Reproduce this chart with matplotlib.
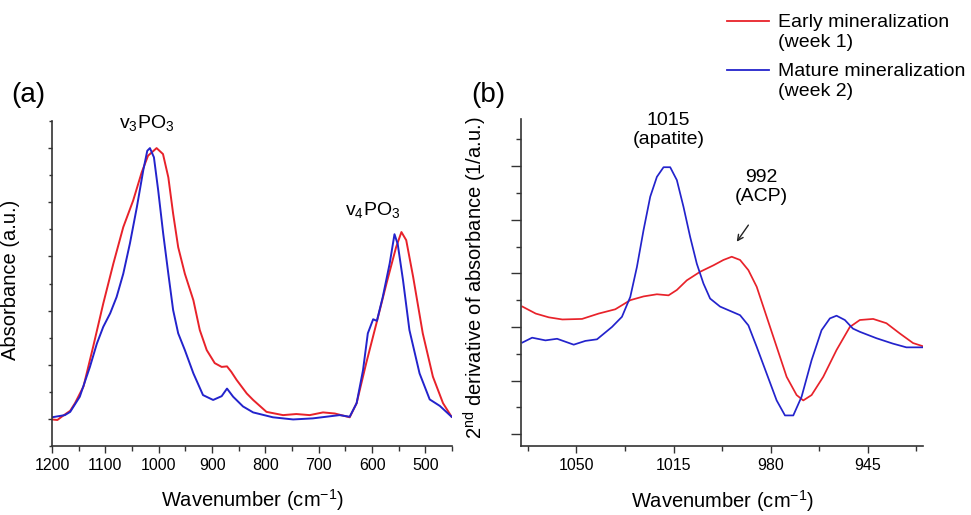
import numpy as np
import matplotlib
matplotlib.use("Agg")
import matplotlib.pyplot as plt
from matplotlib.lines import Line2D
from matplotlib.ticker import MultipleLocator, FixedLocator, NullFormatter

plt.rcParams['font.family'] = ['Liberation Sans', 'DejaVu Sans']
plt.rcParams['mathtext.fontset'] = 'custom'
plt.rcParams['mathtext.rm'] = 'Liberation Sans'
plt.rcParams['mathtext.it'] = 'Liberation Sans:italic'

RED = '#e8222a'
BLUE = '#2323cc'
SPINE = '#333333'

# panel (a): absorbance, normalised so the v3 peak sits at 5
wn_a_early = [1200, 1190, 1182, 1166, 1157, 1141, 1123, 1104, 1085, 1066.5, 1048, 1032, 1020, 1004,
              992, 982, 973, 963.5, 951, 935, 923, 910, 895, 882, 872, 864, 854, 835, 823, 798,
              767, 742, 717, 692, 670, 642, 629, 611, 592, 573, 555, 545, 536, 523, 505, 486,
              467, 451]
abs_a_early = [-0.01, -0.02, 0.04, 0.15, 0.29, 0.60, 1.33, 2.13, 2.87, 3.54, 4.03, 4.55, 4.86, 5.00,
               4.89, 4.46, 3.79, 3.17, 2.68, 2.19, 1.64, 1.27, 1.03, 0.96, 0.97, 0.87, 0.72, 0.47, 0.35, 0.13,
               0.07, 0.09, 0.07, 0.12, 0.10, 0.03, 0.29, 1.03, 1.76, 2.50, 3.17, 3.45, 3.30, 2.62, 1.58, 0.78,
               0.29, 0.04]

wn_a_mature = [1200, 1176, 1166, 1148, 1129, 1116, 1104, 1091, 1079, 1066.5, 1054, 1041, 1029, 1021.5,
               1016.5, 1009, 1001, 991.6, 982, 973, 963.5, 951, 935, 917, 898, 882, 872, 860.5,
               842, 823, 786, 748, 711, 686, 661, 642, 629, 617, 608, 598, 591, 580, 567, 558,
               552, 542, 530, 511, 492, 473, 451]
abs_a_mature = [0.03, 0.07, 0.13, 0.41, 0.96, 1.39, 1.70, 1.95, 2.25, 2.68, 3.24, 3.91, 4.59, 4.95,
                5.00, 4.83, 4.22, 3.42, 2.68, 2.01, 1.58, 1.27, 0.84, 0.44, 0.35, 0.42, 0.56, 0.41,
                0.23, 0.12, 0.03, -0.01, 0.01, 0.04, 0.07, 0.04, 0.29, 0.90, 1.58, 1.84, 1.81, 2.25, 2.87, 3.41,
                3.23, 2.56, 1.64, 0.84, 0.36, 0.24, 0.04]

# panel (b): second derivative
wn_b_early = [1069.5, 1064.7, 1060, 1055.1, 1048, 1042, 1036, 1030.6, 1025.8, 1021, 1016.8, 1013.8,
              1010.2, 1005.4, 1000.6, 997, 994, 991, 988, 985, 981.4, 977.8, 974.2, 970.6, 968.2,
              965.2, 961, 956.2, 951.4, 947.8, 943, 938.2, 933.4, 928.6, 925]
d2_b_early = [2.38, 2.25, 2.18, 2.14, 2.15, 2.25, 2.33, 2.50, 2.57, 2.61, 2.59, 2.69,
              2.87, 3.03, 3.15, 3.25, 3.31, 3.25, 3.06, 2.75, 2.19, 1.63, 1.07, 0.73, 0.63,
              0.73, 1.07, 1.57, 2.00, 2.13, 2.15, 2.07, 1.88, 1.70, 1.64]

wn_b_mature = [1069.5, 1066, 1061.2, 1057, 1051, 1046.8, 1042.6, 1037.2, 1033.6, 1030.6, 1028.2, 1025.8,
               1023.4, 1021, 1018.6, 1016.2, 1013.8, 1011.4, 1009, 1006.6, 1004.2, 1001.8, 998.2, 994.6,
               991, 988, 985, 981.4, 977.8, 974.8, 971.8, 968.8, 965.2, 961.6, 958.6, 956.2,
               953.2, 950.3, 947.8, 941.8, 935.9, 931, 925]
d2_b_mature = [1.71, 1.80, 1.75, 1.78, 1.67, 1.74, 1.77, 2.00, 2.19, 2.56, 3.12, 3.81,
               4.43, 4.80, 4.98, 4.98, 4.74, 4.24, 3.68, 3.18, 2.81, 2.53, 2.38, 2.30,
               2.22, 2.03, 1.63, 1.13, 0.63, 0.35, 0.35, 0.70, 1.38, 1.94, 2.16, 2.21,
               2.13, 1.97, 1.91, 1.79, 1.69, 1.62, 1.62]

xticks_a = [1200, 1100, 1000, 900, 800, 700, 600, 500]
xticks_b = [1050, 1015, 980, 945]

LABELS = ["Early mineralization\n(week 1)", "Mature mineralization\n(week 2)"]


def style_axes(ax):
    for s in ['top', 'right']:
        ax.spines[s].set_visible(False)
    for s in ['left', 'bottom']:
        ax.spines[s].set_color(SPINE)
        ax.spines[s].set_linewidth(1.2)
    ax.yaxis.set_major_formatter(NullFormatter())
    ax.yaxis.set_minor_formatter(NullFormatter())
    ax.tick_params(axis='both', which='both', direction='out', color=SPINE, width=1.0)
    ax.tick_params(axis='x', which='major', length=5, pad=4, labelsize=11.5)
    ax.tick_params(axis='x', which='minor', length=3.5)


def main():
    fig = plt.figure(figsize=(9.71, 5.15), dpi=100)

    # (a) absorbance
    ax = fig.add_axes([0.0536, 0.134, 0.412, 0.631])
    ax.plot(wn_a_early, abs_a_early, color=RED, lw=1.4)
    ax.plot(wn_a_mature, abs_a_mature, color=BLUE, lw=1.4)
    ax.set_xlim(1200, 450)
    ax.set_ylim(-0.5, 5.5)
    ax.xaxis.set_major_locator(FixedLocator(xticks_a))
    ax.xaxis.set_minor_locator(MultipleLocator(50))
    ax.yaxis.set_major_locator(MultipleLocator(1))
    ax.yaxis.set_minor_locator(MultipleLocator(0.5))
    style_axes(ax)
    ax.tick_params(axis='y', which='major', length=3)
    ax.tick_params(axis='y', which='minor', length=2)
    ax.set_xlabel("Wavenumber (cm$^{-1}$)", fontsize=14.5)
    ax.set_ylabel("Absorbance (a.u.)", fontsize=14.5)
    ax.yaxis.set_label_coords(-0.079, 0.51)
    ax.xaxis.set_label_coords(0.5, -0.128)
    ax.text(1022, 5.47, "v$_3$PO$_3$", fontsize=14, ha='center', va='center')
    ax.text(599, 3.85, "v$_4$PO$_3$", fontsize=14, ha='center', va='center')

    # (b) second derivative
    bx = fig.add_axes([0.5366, 0.134, 0.414, 0.635])
    bx.plot(wn_b_early, d2_b_early, color=RED, lw=1.25)
    bx.plot(wn_b_mature, d2_b_mature, color=BLUE, lw=1.25)
    bx.set_xlim(1070, 925)
    bx.set_ylim(-0.22, 5.88)
    bx.xaxis.set_major_locator(FixedLocator(xticks_b))
    bx.xaxis.set_minor_locator(FixedLocator([x + 17.5 for x in xticks_b] + [927.5]))
    bx.yaxis.set_major_locator(MultipleLocator(1))
    bx.yaxis.set_minor_locator(MultipleLocator(0.5))
    style_axes(bx)
    bx.tick_params(axis='y', which='major', length=7.5)
    bx.tick_params(axis='y', which='minor', length=3.5)
    bx.set_xlabel("Wavenumber (cm$^{-1}$)", fontsize=14.5)
    bx.set_ylabel("2$^{\\rm nd}$ derivative of absorbance (1/a.u.)", fontsize=14.5)
    bx.yaxis.set_label_coords(-0.0796, 0.514)
    bx.xaxis.set_label_coords(0.5, -0.128)
    bx.text(1016.9, 5.67, "1015\n(apatite)", fontsize=14, ha='center', va='center', linespacing=1.15)
    bx.text(983.5, 4.61, "992\n(ACP)", fontsize=14, ha='center', va='center', linespacing=1.15)
    bx.annotate("", xy=(992.2, 3.59), xytext=(988.0, 3.90),
                arrowprops=dict(arrowstyle='->', color='#222222', lw=1.0, shrinkA=0, shrinkB=0))

    # panel letters
    fig.text(0.012, 0.815, "(a)", fontsize=20, va='center')
    fig.text(0.485, 0.815, "(b)", fontsize=20, va='center')

    # legend drawn at the top right
    for ly, ty, col, lab in [(0.960, 0.972, RED, LABELS[0]), (0.864, 0.877, BLUE, LABELS[1])]:
        fig.add_artist(Line2D([0.749, 0.792], [ly, ly], color=col, lw=1.3, transform=fig.transFigure))
        fig.text(0.801, ty, lab, fontsize=14, va='top', linespacing=1.2,
                 transform=fig.transFigure)

    fig.savefig("out.png", dpi=100)


if __name__ == "__main__":
    main()
